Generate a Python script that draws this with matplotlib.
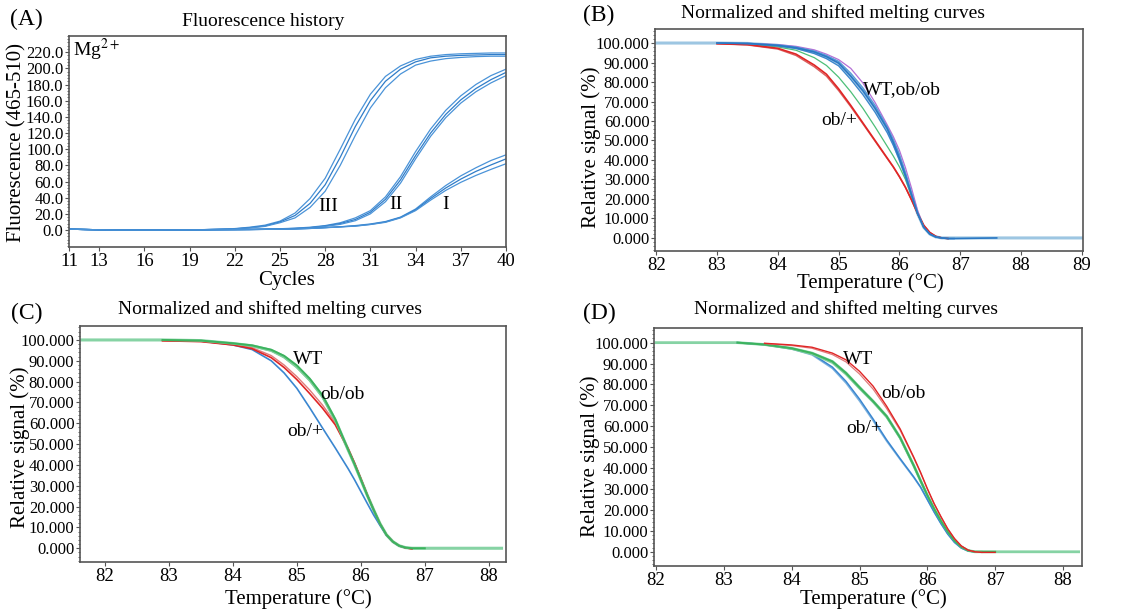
import matplotlib
matplotlib.use("Agg")
import matplotlib.pyplot as plt
import numpy as np
from matplotlib.ticker import AutoMinorLocator, FormatStrFormatter

plt.rcParams['font.family'] = ['Liberation Serif', 'DejaVu Serif']
plt.rcParams['mathtext.fontset'] = 'stix'
nan = np.nan

# ---- (A) fluorescence history ----
cycles = [11, 14, 17, 20, 22, 23, 24, 25, 26, 27, 28, 29, 30, 31, 32, 33, 34, 35, 36, 37, 38, 39, 40]
grp3_a = [1, 0, 0, 0.5, 1.8, 3.5, 6, 11, 21, 39, 64, 100, 137, 168, 190, 203, 211, 215, 217, 218, 218.5, 219, 219]
grp3_b = [1, 0, 0, 0.5, 1.5, 3, 5, 10, 18, 33, 56, 90, 128, 160, 184, 199, 208, 213, 215, 216, 216.5, 217, 217]
grp3_c = [1, 0, 0, 0.5, 1.3, 2.5, 4.5, 9, 15, 28, 48, 80, 117, 151, 176, 193, 204, 209, 212, 213.5, 214.5, 215, 215]
grp2_a = [1, 0, 0, 0.3, 0.6, 0.8, 1.2, 1.6, 2.3, 3.5, 5.5, 9, 15, 24, 41, 66, 97, 125, 148, 166, 180, 191, 199]
grp2_b = [1, 0, 0, 0.3, 0.5, 0.7, 1, 1.4, 2, 3, 5, 8, 13, 22, 38, 62, 92, 120, 143, 161, 175, 186, 195]
grp2_c = [1, 0, 0, 0.3, 0.5, 0.6, 0.9, 1.2, 1.8, 2.7, 4.5, 7, 11.5, 20, 35, 58, 88, 116, 139, 157, 171, 182, 191]
grp1_a = [1, 0, 0, 0.3, 0.5, 0.6, 0.8, 1, 1.4, 2, 3, 4, 5.5, 7.5, 10.5, 16, 26, 41, 55, 67, 77, 86, 93]
grp1_b = [1, 0, 0, 0.3, 0.5, 0.6, 0.8, 1, 1.4, 2, 3, 4, 5, 7, 10, 15.5, 25, 39, 52, 63, 72.5, 80.5, 88]
grp1_c = [1, 0, 0, 0.3, 0.5, 0.6, 0.8, 1, 1.3, 1.9, 2.8, 3.8, 4.8, 6.8, 9.5, 15, 24, 37, 49, 59, 67.5, 75, 82]
cycle_ticks = [11, 13, 16, 19, 22, 25, 28, 31, 34, 37, 40]

# ---- (B) melting curves ----
b_temp = [83.0, 83.5, 84.0, 84.3, 84.6, 84.8, 85.0, 85.2, 85.4, 85.6, 85.8, 85.9, 86.0,
          86.1, 86.2, 86.3, 86.4, 86.5, 86.6, 86.7, 86.8, 86.9, 87.6]
b_blue1 = [100, 99.8, 98.8, 97.6, 95.4, 93, 89.7, 83, 75.5, 66.5, 56, 49, 41,
           32, 22, 12.5, 5.5, 2, 0.5, 0, -0.3, -0.3, 0]
b_blue2 = [100, 99.7, 98.5, 97.2, 94.6, 92, 88.3, 81.3, 73.5, 64.5, 54, 47.5, 40,
           31.5, 22, 12.5, 5.5, 2, 0.5, 0, -0.3, -0.3, nan]
b_blue3 = [100, 99.8, 99, 97.9, 95.9, 93.6, 90.6, 84.5, 77, 68, 57, 50.5, 43,
           33.5, 23, 12.8, 5.5, 2, 0.5, 0, -0.3, -0.3, nan]
b_red1 = [99.7, 99.2, 97.3, 94.3, 88.7, 84, 76.5, 68, 59, 50, 41, 36.5, 31.5,
          26, 19.5, 12.5, 6.5, 2.8, 0.8, 0, -0.3, nan, nan]
b_red2 = [99.6, 99.0, 96.9, 93.6, 87.8, 83, 75.6, 67.3, 58.5, 49.6, 40.7, 36.3, 31.3,
          25.8, 19.4, 12.5, 6.5, 2.8, 0.8, 0, -0.3, nan, nan]
b_green = [100, 99.5, 98, 96.3, 92.5, 88.5, 82.5, 75, 66.5, 57, 47, 42, 36.5,
           30, 21.5, 12.5, 5.5, 2, 0.5, 0, -0.3, nan, nan]
b_purple = [nan, 99.8, 99.2, 98.3, 96.5, 94.3, 91.5, 87, 79.5, 69.5, 58, 52, 45,
            36, 25.5, 14, 6, 2.2, 0.5, 0, -0.3, nan, nan]
b_lb_temp = [82.0, 83.0, 83.5, 84.0, 84.3, 84.6, 84.8, 85.0, 85.2, 85.4, 85.6, 85.8, 85.9, 86.0,
             86.1, 86.2, 86.3, 86.4, 86.5, 86.6, 86.7, 86.8, 87.6, 89.0]
b_lb_sig = [100, 100, 99.8, 98.8, 97.6, 95.4, 93, 89.7, 83, 75.5, 66.5, 56, 49, 41,
            32, 22, 12.5, 5.5, 2, 0.5, 0, 0, 0, 0]

# ---- (C) melting curves ----
c_temp = [82.9, 83.5, 84.0, 84.3, 84.6, 84.8, 85.0, 85.2, 85.4, 85.6, 85.8, 85.9, 86.0,
          86.1, 86.2, 86.3, 86.4, 86.5, 86.6, 86.7, 86.8, 87.0]
c_green1 = [100, 99.7, 98.4, 97.4, 95.3, 92.4, 87.8, 81.5, 73.5, 62, 47.5, 40.5, 33,
            25.5, 18.5, 11.8, 6.5, 3.2, 1.2, 0.3, 0, 0]
c_green2 = [100, 99.6, 98.2, 97.1, 94.8, 91.6, 86.8, 80.5, 72.5, 61.3, 47.2, 40.3, 33,
            25.5, 18.5, 11.8, 6.5, 3.2, 1.2, 0.3, 0, 0]
c_red1 = [99.6, 99.2, 97.6, 95.8, 91.5, 86.8, 81, 74.3, 67.3, 59.3, 47.8, 41, 33.5,
          25.8, 18.5, 11.8, 6.5, 3.2, 1.2, 0.2, -0.3, nan]
c_red2 = [99.7, 99.4, 97.9, 96.3, 92.5, 88, 82.4, 76, 68.8, 60.3, 48.2, 41.2, 33.6,
          25.8, 18.5, 11.8, 6.5, 3.2, 1.2, 0.2, -0.3, nan]
c_blue = [nan, 99.5, 97.6, 95.4, 90, 84.2, 76.8, 67.5, 57.8, 48.2, 38.3, 33, 27.3,
          21.6, 16, 11, 6.3, 3.1, 1.1, 0.2, 0, nan]
c_lg_temp = [81.6, 82.9, 83.5, 84.0, 84.3, 84.6, 84.8, 85.0, 85.2, 85.4, 85.6, 85.8, 85.9, 86.0,
             86.1, 86.2, 86.3, 86.4, 86.5, 86.6, 86.7, 86.8, 87.0, 88.2]
c_lg_sig = [100, 100, 99.7, 98.3, 97.2, 95, 92, 87.2, 81, 73, 61.6, 47.4, 40.4, 33,
            25.5, 18.5, 11.8, 6.5, 3.2, 1.2, 0.3, 0, 0, 0]

# ---- (D) melting curves ----
d_temp = [83.2, 83.6, 84.0, 84.3, 84.6, 84.8, 85.0, 85.2, 85.4, 85.6, 85.8, 85.9, 86.0,
          86.1, 86.2, 86.3, 86.4, 86.5, 86.6, 86.7, 86.8, 87.0]
d_red1 = [nan, 99.7, 98.9, 97.8, 95, 91.8, 86.3, 79.2, 69.6, 58.7, 45.2, 38, 30.2,
          23, 16.8, 11, 6.3, 2.8, 0.8, 0, -0.3, -0.3]
d_red2 = [nan, 99.6, 98.6, 97.3, 94.3, 90.8, 85, 77.8, 68.5, 58, 44.8, 37.7, 30,
          23, 16.8, 11, 6.3, 2.8, 0.8, 0, -0.3, nan]
d_green1 = [100, 99.1, 97.3, 95, 91, 85.5, 78.6, 72, 64.8, 54.5, 41.2, 34, 27,
            20.5, 14.7, 9.6, 5.3, 2.3, 0.6, 0, 0, 0]
d_green2 = [100, 99.0, 97.0, 94.5, 90.3, 84.8, 78.0, 71.5, 64.3, 54.2, 41, 33.9, 27,
            20.5, 14.7, 9.6, 5.3, 2.3, 0.6, 0, 0, nan]
d_blue1 = [100, 99.1, 97.2, 94.6, 88.3, 81.5, 73, 63.5, 53.5, 44.5, 35.8, 31, 25,
           19, 13.5, 8.5, 4.5, 1.8, 0.4, 0, nan, nan]
d_blue2 = [100, 99.0, 96.9, 94.1, 87.6, 80.6, 72, 62.6, 52.8, 44, 35.4, 30.7, 24.8,
           19, 13.5, 8.5, 4.5, 1.8, 0.4, 0, nan, nan]
d_lg_temp = [82.0, 83.2, 83.6, 84.0, 84.3, 84.6, 84.8, 85.0, 85.2, 85.4, 85.6, 85.8, 85.9, 86.0,
             86.1, 86.2, 86.3, 86.4, 86.5, 86.6, 86.7, 86.8, 87.0, 88.23]
d_lg_sig = [100, 100, 99.1, 97.3, 95, 91, 85.5, 78.6, 72, 64.8, 54.5, 41.2, 34, 27,
            20.5, 14.7, 9.6, 5.3, 2.3, 0.6, 0, 0, 0, 0]

temp_ticks_b = [82, 83, 84, 85, 86, 87, 88, 89]
temp_ticks_cd = [82, 83, 84, 85, 86, 87, 88]

W, H = 1148, 611
SERIF = ['Liberation Serif', 'DejaVu Serif']
fig = plt.figure(figsize=(W / 100, H / 100), dpi=100)


def box(l, r, t, b):
    return fig.add_axes([l / W, 1 - b / H, (r - l) / W, (b - t) / H])


def style(ax, ytick_fmt):
    for s in ax.spines.values():
        s.set_color('#555555')
        s.set_linewidth(1.2)
    ax.tick_params(axis='x', length=3, width=0.8, color='#555555', labelsize=13.5, pad=1)
    ax.tick_params(axis='y', length=3, width=0.8, color='#555555', labelsize=12, pad=1)
    ax.tick_params(axis='y', which='minor', length=1.5, width=0.6, color='#555555')
    ax.yaxis.set_minor_locator(AutoMinorLocator(5))
    ax.yaxis.set_major_formatter(FormatStrFormatter(ytick_fmt))
    for lbl in ax.get_xticklabels() + ax.get_yticklabels():
        lbl.set_fontfamily(SERIF)


def ftext(x, y, s, **kw):
    fig.text(x / W, 1 - y / H, s, ha='center', va='center', **kw)


# (A)
axA = box(69, 506, 36, 247)
for ys, c in [(grp3_a, '#4a93d8'), (grp3_b, '#2f7cc8'), (grp3_c, '#4a93d8'),
              (grp2_a, '#4a93d8'), (grp2_b, '#2f7cc8'), (grp2_c, '#4a93d8'),
              (grp1_a, '#4a93d8'), (grp1_b, '#2f7cc8'), (grp1_c, '#4a93d8')]:
    axA.plot(cycles, ys, color=c, lw=0.9)
axA.set_xlim(11, 40)
axA.set_ylim(-21, 240)
axA.set_xticks(cycle_ticks)
axA.set_yticks(np.arange(0, 221, 20))
style(axA, '%.1f')
axA.text(28.2, 29, 'III', fontsize=14, ha='center', va='center')
axA.text(32.7, 32, 'II', fontsize=14, ha='center', va='center')
axA.text(36.0, 31, 'I', fontsize=14, ha='center', va='center')
axA.text(11.25, 223, r'Mg$^{2+}$', fontsize=14, ha='left', va='center')
ftext(26, 19, '(A)', fontsize=17)
ftext(263, 21, 'Fluorescence history', fontsize=14)
ftext(287, 280, 'Cycles', fontsize=15)
ftext(17, 142, 'Fluorescence (465-510)', fontsize=15, rotation=90)

# (B)
axB = box(655, 1083, 29, 251)
axB.plot(b_lb_temp, b_lb_sig, color='#9dc6e2', lw=2.2)
for ys, c, lw in [(b_green, '#4cbf78', 0.9), (b_purple, '#b46fd6', 0.9),
                  (b_red2, '#d9605f', 1.0), (b_red1, '#e02525', 1.2),
                  (b_blue2, '#3c86cc', 1.0), (b_blue3, '#5a9ad6', 1.0), (b_blue1, '#2a78c4', 1.2)]:
    axB.plot(b_temp, ys, color=c, lw=lw)
axB.set_xlim(81.98, 89.02)
axB.set_ylim(-6.7, 107.2)
axB.set_xticks(temp_ticks_b)
axB.set_yticks(np.arange(0, 101, 10))
style(axB, '%.3f')
axB.text(85.4, 76, 'WT,ob/ob', fontsize=14, ha='left', va='center')
axB.text(84.72, 60, 'ob/+', fontsize=14, ha='left', va='center')
ftext(599, 15, '(B)', fontsize=17)
ftext(833, 13, 'Normalized and shifted melting curves', fontsize=14)
ftext(870, 283, 'Temperature (°C)', fontsize=15)
ftext(591, 147, 'Relative signal (%)', fontsize=15, rotation=90)

# (C)
axC = box(80, 506, 326, 562)
axC.plot(c_lg_temp, c_lg_sig, color='#86d3a4', lw=2.2)
for ys, c, lw in [(c_blue, '#3a86d0', 1.2), (c_red2, '#e07a7a', 1.0), (c_red1, '#e02525', 1.2),
                  (c_green2, '#7fcf9b', 1.4), (c_green1, '#3cb35e', 1.4)]:
    axC.plot(c_temp, ys, color=c, lw=lw)
axC.set_xlim(81.61, 88.27)
axC.set_ylim(-6.6, 106.7)
axC.set_xticks(temp_ticks_cd)
axC.set_yticks(np.arange(0, 101, 10))
style(axC, '%.3f')
axC.text(84.94, 90.4, 'WT', fontsize=14, ha='left', va='center')
axC.text(85.36, 73.6, 'ob/ob', fontsize=14, ha='left', va='center')
axC.text(84.85, 56, 'ob/+', fontsize=14, ha='left', va='center')
ftext(27, 313, '(C)', fontsize=17)
ftext(270, 309, 'Normalized and shifted melting curves', fontsize=14)
ftext(298, 599, 'Temperature (°C)', fontsize=15)
ftext(20, 447, 'Relative signal (%)', fontsize=15, rotation=90)

# (D)
axD = box(654, 1082, 328, 566)
axD.plot(d_lg_temp, d_lg_sig, color='#86d3a4', lw=2.0)
for ys, c, lw in [(d_blue2, '#7fb4e0', 1.0), (d_blue1, '#3a86d0', 1.1),
                  (d_green2, '#7fcf9b', 1.4), (d_green1, '#3cb35e', 1.4),
                  (d_red2, '#e07a7a', 0.9), (d_red1, '#e02525', 1.0)]:
    axD.plot(d_temp, ys, color=c, lw=lw)
axD.set_xlim(81.97, 88.28)
axD.set_ylim(-6.8, 107)
axD.set_xticks(temp_ticks_cd)
axD.set_yticks(np.arange(0, 101, 10))
style(axD, '%.3f')
axD.text(84.75, 91.7, 'WT', fontsize=14, ha='left', va='center')
axD.text(85.32, 75.8, 'ob/ob', fontsize=14, ha='left', va='center')
axD.text(84.8, 59, 'ob/+', fontsize=14, ha='left', va='center')
ftext(599, 313, '(D)', fontsize=17)
ftext(846, 309, 'Normalized and shifted melting curves', fontsize=14)
ftext(873, 599, 'Temperature (°C)', fontsize=15)
ftext(590, 456, 'Relative signal (%)', fontsize=15, rotation=90)

fig.savefig('out.png', dpi=100, facecolor='white')
